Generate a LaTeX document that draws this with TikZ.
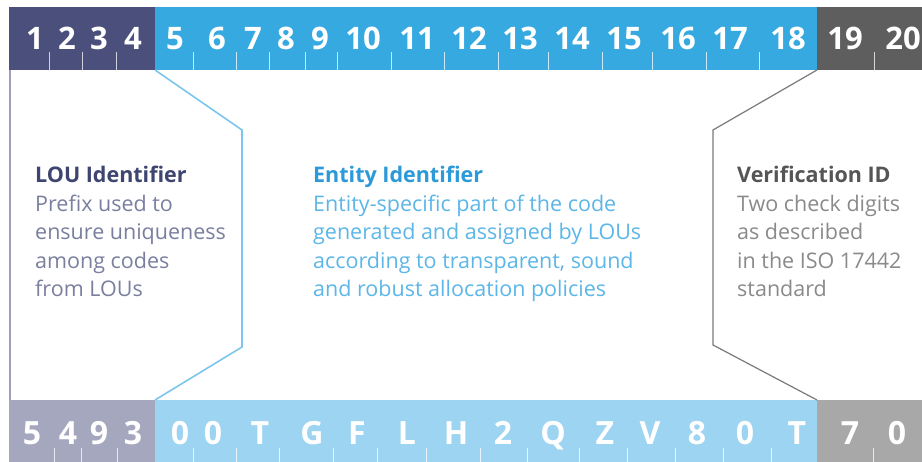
\documentclass[tikz,border=0pt]{standalone}
\usepackage{fontspec}
\setmainfont{Open Sans}
\definecolor{navyTop}{HTML}{4A4F7C}
\definecolor{blueTop}{HTML}{36A9E1}
\definecolor{grayTop}{HTML}{5E5E5E}
\definecolor{navyBot}{HTML}{A4A7BE}
\definecolor{blueBot}{HTML}{9DD4F1}
\definecolor{grayBot}{HTML}{A8A8A8}
\definecolor{navyLine}{HTML}{9DA0B8}
\definecolor{blueLine}{HTML}{7CC6EE}
\definecolor{grayLine}{HTML}{7A7A7A}
\definecolor{navyHead}{HTML}{3E4570}
\definecolor{navyText}{HTML}{7A7F9E}
\definecolor{blueHead}{HTML}{2C9AD8}
\definecolor{blueText}{HTML}{5CB6E8}
\definecolor{grayHead}{HTML}{555555}
\definecolor{grayText}{HTML}{8A8A8A}
\tikzset{
  tickline/.style={draw=white, draw opacity=0.75, line width=1pt},
  topdigit/.style={anchor=base, inner sep=0pt, text=white, font=\fontsize{31}{31}\selectfont\bfseries},
  botchar/.style={anchor=base, inner sep=0pt, text=white, font=\fontsize{32}{32}\selectfont\bfseries},
  desc/.style={anchor=north west, inner sep=0pt, align=left, font=\fontsize{21.5}{28.5}\selectfont},
  outline/.style={line width=1.6pt, line join=miter}
}
\begin{document}
\begin{tikzpicture}[x=1pt,y=-1pt]
\useasboundingbox (0,0) rectangle (922,462);
\clip (0,0) rectangle (922,462);
\fill[white] (0,0) rectangle (922,462);
% top bar
\fill[navyTop] (9,7) rectangle (155,70);
\fill[blueTop] (155,7) rectangle (817,70);
\fill[grayTop] (817,7) rectangle (922,70);
% bottom bar
\fill[navyBot] (9,400) rectangle (155,462);
\fill[blueBot] (155,400) rectangle (817,462);
\fill[grayBot] (817,400) rectangle (922,462);
% ticks top
\foreach \x in {49,82,116,193,236,269,305,337,391,444,498,548,602,652,706,759,874}
  \draw[tickline] (\x,52) -- (\x,70);
% ticks bottom
\foreach \x in {54,81,117,193,236,279,333,377,426,480,527,579,627,675,723,771,873}
  \draw[tickline] (\x,448) -- (\x,462);
% top digits
\foreach \x/\d [count=\i] in {35/1,67/2,99/3,133/4,175/5,217/6,253/7,286/8,320/9,363/10,417/11,469/12,520/13,572/14,624/15,678/16,730/17,788/18,845/19,903/20}
  \node[topdigit] (t\i) at (\x,50) {\d};
% bottom characters
\foreach \x/\d [count=\i] in {32/5,68/4,99/9,133/3,180/0,213/0,260/T,312/G,357/F,407/L,456/H,503/2,553/Q,605/Z,650/V,697/8,745/0,797/T,850/7,897/0}
  \node[botchar] (b\i) at (\x,445) {\d};
% outlines
\coordinate (lt) at (10,70);
\coordinate (lb) at (10,400);
\draw[navyLine, line width=2pt] (lt) -- (lb);
\coordinate (e1) at (155,70);
\coordinate (e2) at (242,130);
\coordinate (e3) at (242,347);
\coordinate (e4) at (155,400);
\draw[blueLine, outline] (e1) -- (e2) -- (e3) -- (e4);
\coordinate (v1) at (817,70);
\coordinate (v2) at (713,130);
\coordinate (v3) at (713,345);
\coordinate (v4) at (817,400);
\draw[grayLine, outline, line width=1.2pt] (v1) -- (v2) -- (v3) -- (v4);
% descriptions
\node[desc] (lou) at (35,166) {\textcolor{navyHead}{\bfseries LOU Identifier}\\\textcolor{navyText}{Prefix used to}\\\textcolor{navyText}{ensure uniqueness}\\\textcolor{navyText}{among codes}\\\textcolor{navyText}{from LOUs}};
\node[desc] (ent) at (313,166) {\textcolor{blueHead}{\bfseries Entity Identifier}\\\textcolor{blueText}{Entity-specific part of the code}\\\textcolor{blueText}{generated and assigned by LOUs}\\\textcolor{blueText}{according to transparent, sound}\\\textcolor{blueText}{and robust allocation policies}};
\node[desc] (ver) at (737,166) {\textcolor{grayHead}{\bfseries Verification ID}\\\textcolor{grayText}{Two check digits}\\\textcolor{grayText}{as described}\\\textcolor{grayText}{in the ISO 17442}\\\textcolor{grayText}{standard}};
\end{tikzpicture}
\end{document}
